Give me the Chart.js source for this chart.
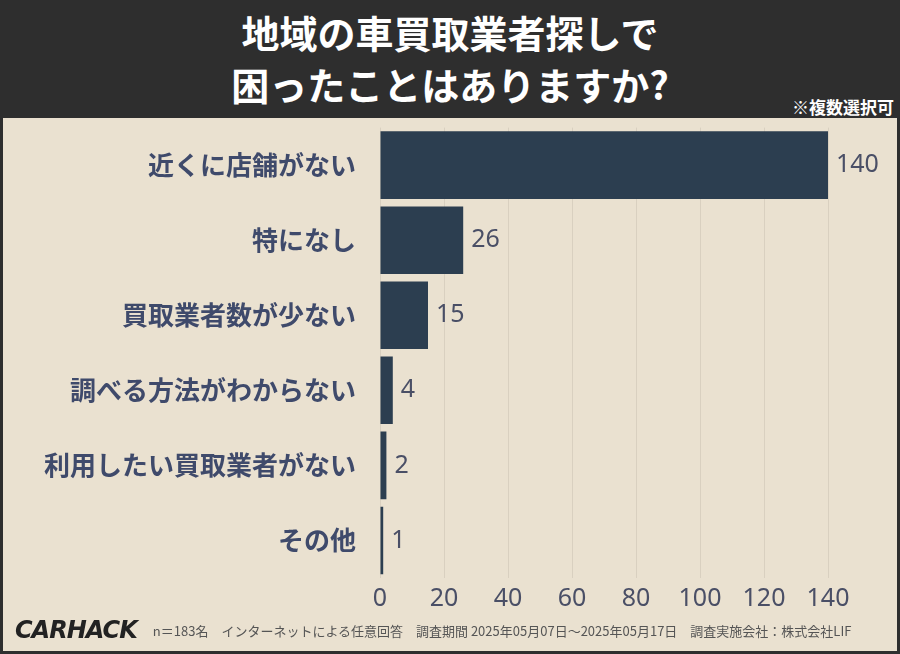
<!DOCTYPE html>
<html>
<head>
<meta charset="utf-8">
<script src="https://cdn.jsdelivr.net/npm/chart.js@4"></script>
<style>
  html, body { margin: 0; padding: 0; }
  body { width: 900px; height: 654px; background: #2e2e2e; position: relative; overflow: hidden; font-family: "Noto Sans CJK JP", sans-serif; }
  #head { position: absolute; left: 0; top: 0; width: 900px; height: 118px; color: #fff; text-align: center; font-weight: 700; font-size: 38px; line-height: 52px; padding-top: 6px; box-sizing: border-box; }
  #panel { position: absolute; left: 3px; top: 118px; width: 894px; height: 533px; background: #eae1d0; }
  #note { position: absolute; right: 6px; top: 94px; color: #fff; font-weight: 700; font-size: 17px; }
  #chartBox { position: absolute; left: 0; top: -22px; width: 894px; height: 524px; }
  #foot { position: absolute; left: 12px; top: 498px; font-size: 13px; color: #555; white-space: nowrap; }
  #logo { font-family: "DejaVu Sans", sans-serif; font-weight: 900; font-style: italic; font-size: 24px; color: #222; letter-spacing: -1px; margin-right: 16px; vertical-align: -2px; }
</style>
</head>
<body>
<div id="head">地域の車買取業者探しで<br>困ったことはありますか?</div>
<div id="note">※複数選択可</div>
<div id="panel">
  <div id="chartBox"><canvas id="c"></canvas></div>
  <div id="foot"><span id="logo">CARHACK</span>n＝183名　インターネットによる任意回答　調査期間 2025年05月07日～2025年05月17日　調査実施会社：株式会社LIF</div>
</div>
<script>
const categories = ["近くに店舗がない", "特になし", "買取業者数が少ない", "調べる方法がわからない", "利用したい買取業者がない", "その他"];
const counts = [140, 26, 15, 4, 2, 1];

const valueLabels = {
  id: "valueLabels",
  afterDatasetsDraw(chart) {
    const ctx = chart.ctx;
    const meta = chart.getDatasetMeta(0);
    ctx.save();
    ctx.font = "25px 'Noto Sans', sans-serif";
    ctx.fillStyle = "#4a4f66";
    ctx.textBaseline = "middle";
    meta.data.forEach((bar, i) => {
      ctx.fillText(counts[i], bar.x + 8, bar.y);
    });
    ctx.restore();
  }
};

new Chart(document.getElementById("c"), {
  type: "bar",
  data: {
    labels: categories,
    datasets: [{ data: counts, backgroundColor: "#2c3e50", barPercentage: 0.9, categoryPercentage: 1 }]
  },
  options: {
    indexAxis: "y",
    responsive: true,
    maintainAspectRatio: false,
    animation: false,
    layout: { padding: { top: 10, right: 69, bottom: 0 } },
    plugins: { legend: { display: false }, tooltip: { enabled: false } },
    scales: {
      x: {
        min: 0, max: 140,
        ticks: { stepSize: 20, color: "#4a4f66", font: { size: 25, family: "'Noto Sans', sans-serif" }, padding: 6 },
        grid: { color: "#d9d0c0", drawTicks: false },
        border: { display: false }
      },
      y: {
        afterFit(scale) { scale.width = 377; },
        ticks: { color: "#3f4a6b", font: { size: 26, weight: "bold", family: "'Noto Sans CJK JP', sans-serif" }, padding: 16 },
        grid: { display: false },
        border: { display: false }
      }
    }
  },
  plugins: [valueLabels]
});
</script>
</body>
</html>
